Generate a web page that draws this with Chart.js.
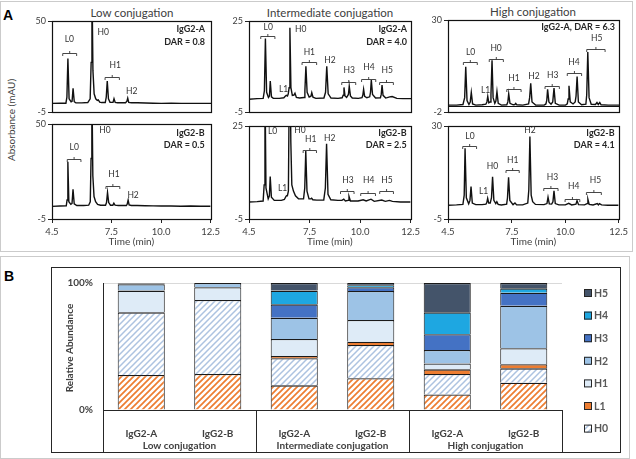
<!DOCTYPE html>
<html><head><meta charset="utf-8">
<script src="https://cdn.jsdelivr.net/npm/chart.js@4"></script>
<style>
body{margin:0;width:636px;height:459px;position:relative;background:#fff;overflow:hidden;font-family:Lato,sans-serif;color:#404040}
canvas{position:absolute}
.t{position:absolute;white-space:nowrap;transform:translate(-50%,-50%);line-height:1}
.frame{position:absolute;border:1.5px solid #cbcbcb;box-sizing:border-box}
</style></head><body>
<div class="frame" style="left:0;top:1px;width:633px;height:251px"></div>
<div class="frame" style="left:0;top:256px;width:630px;height:203px"></div>
<div class="t" style="left:8px;top:15px;font:bold 14px 'Liberation Sans';color:#000">A</div>
<div class="t" style="left:9px;top:276px;font:bold 14px 'Liberation Sans';color:#000">B</div>
<div class="t" style="left:132px;top:13px;font-size:11.5px">Low conjugation</div>
<div class="t" style="left:330px;top:13px;font-size:11.5px">Intermediate conjugation</div>
<div class="t" style="left:533px;top:12px;font-size:11.5px">High conjugation</div>
<div class="t" style="left:11px;top:120px;font-size:10px;transform:translate(-50%,-50%) rotate(-90deg)">Absorbance (mAU)</div>
<script>
// ---------- Panel A data: chromatogram traces [time (min), absorbance (mAU)] ----------
const timeTicks = [4.5, 7.5, 10.0, 12.5];
const lowA_trace = [[4.5,0.2],[4.9,0.3],[5.2,0.3],[5.25,4],[5.30,27.3],[5.36,3],[5.46,1.2],[5.51,1.5],[5.56,9.3],[5.62,1.2],[5.70,0.5],[6.0,0.5],[6.3,0.7],[6.42,3],[6.47,25],[6.51,75],[6.56,20],[6.62,6],[6.70,3],[6.78,2],[6.83,2.3],[6.90,1],[7.0,0.7],[7.18,0.7],[7.23,4],[7.28,13.7],[7.34,3],[7.42,0.8],[7.57,0.8],[7.62,3],[7.68,0.8],[7.8,0.6],[8.2,0.6],[8.27,1.5],[8.31,3.4],[8.36,0.8],[8.5,0.6],[8.8,0.6],[9.2,0.4],[9.6,0.3],[10.0,0.2],[10.5,0.3],[11.0,0.2],[11.5,0.2],[12.0,0.2],[12.5,0.2]];
const lowB_trace = [[4.5,2.3],[4.9,2.5],[5.22,2.6],[5.26,6],[5.30,28.2],[5.35,5],[5.45,3.5],[5.51,4],[5.56,12.2],[5.62,3.8],[5.75,2.8],[6.1,2.8],[6.35,3],[6.43,5],[6.47,30],[6.51,75],[6.56,20],[6.62,8],[6.70,5],[6.80,3.5],[6.95,3],[7.2,3],[7.25,4.5],[7.30,10.3],[7.36,4.5],[7.45,3],[7.57,3],[7.62,4.1],[7.68,3],[7.85,2.8],[8.25,2.8],[8.29,3.5],[8.34,6],[8.39,3.2],[8.5,2.8],[8.8,2.8],[9.2,2.7],[9.6,2.6],[10.0,2.5],[10.5,2.5],[11.0,2.4],[11.5,2.5],[12.0,2.4],[12.5,2.4]];
const intA_trace = [[4.5,-0.8],[4.9,-0.6],[5.2,-0.5],[5.26,2],[5.31,19.2],[5.37,1.5],[5.46,-0.2],[5.51,0.3],[5.55,5.2],[5.61,0],[5.7,-0.5],[6.0,-0.5],[6.22,-0.3],[6.30,0.3],[6.34,0.5],[6.40,0.3],[6.44,1.0],[6.48,3],[6.52,22.8],[6.57,3],[6.64,0.5],[6.72,0.6],[6.77,1.2],[6.84,-0.2],[7.0,-0.4],[7.22,-0.2],[7.26,2],[7.31,10.1],[7.37,1.5],[7.47,-0.1],[7.56,0.2],[7.60,1.4],[7.66,-0.1],[7.8,-0.5],[8.2,-0.4],[8.28,1.5],[8.34,10.1],[8.41,1.0],[8.55,-0.4],[8.9,-0.5],[9.1,-0.3],[9.15,0.5],[9.19,3.1],[9.24,0.3],[9.32,-0.2],[9.41,0.8],[9.45,3.5],[9.51,0.3],[9.6,-0.4],[9.9,-0.5],[10.08,-0.3],[10.12,0.5],[10.16,2.5],[10.21,0.2],[10.32,-0.3],[10.46,0.0],[10.50,1.5],[10.54,5.5],[10.6,0.8],[10.75,-0.4],[10.99,-0.3],[11.03,0.8],[11.07,3.9],[11.12,0.5],[11.25,-0.4],[11.45,0.0],[11.57,0.1],[11.8,-0.5],[12.1,-0.6],[12.5,-0.6]];
const intB_trace = [[4.5,0.5],[4.9,0.6],[5.2,0.8],[5.25,6],[5.29,40],[5.34,5],[5.45,1.5],[5.51,2.5],[5.55,8.7],[5.61,2],[5.75,1.0],[6.1,1.0],[6.25,1.3],[6.33,2.3],[6.36,2.5],[6.40,2.5],[6.45,4],[6.52,60],[6.57,20],[6.62,6],[6.70,4],[6.8,2.5],[6.95,1.5],[7.2,1.5],[7.26,5],[7.31,16.9],[7.37,4],[7.47,1.5],[7.56,1.5],[7.60,1.7],[7.66,1.2],[7.85,1.1],[8.2,1.1],[8.28,5],[8.34,19.3],[8.41,3],[8.55,1.2],[8.9,1.0],[9.1,1.0],[9.19,1.4],[9.27,0.8],[9.41,1.0],[9.45,2.3],[9.52,0.8],[9.9,0.8],[10.15,1.2],[10.3,0.8],[10.54,1.4],[10.7,0.7],[11.07,1.1],[11.25,0.7],[11.45,1.0],[11.6,0.7],[12.0,0.5],[12.5,0.5]];
const highA_trace = [[4.5,0.4],[4.9,0.4],[5.2,0.6],[5.28,3],[5.33,13.7],[5.39,2],[5.48,0.6],[5.54,1.5],[5.59,4.8],[5.65,0.8],[5.8,0.4],[6.1,0.5],[6.27,0.7],[6.32,1.5],[6.36,3.4],[6.41,1.2],[6.47,1.5],[6.51,4],[6.56,16],[6.61,3],[6.69,1],[6.74,1.8],[6.79,5.1],[6.85,1],[7.0,0.4],[7.25,0.5],[7.30,1.5],[7.34,4.3],[7.40,1],[7.55,0.5],[7.63,0.6],[7.67,1.0],[7.72,0.5],[8.0,0.4],[8.27,0.8],[8.32,3],[8.37,8],[8.43,1.5],[8.6,0.4],[9.0,0.4],[9.08,0.8],[9.12,2],[9.16,5.9],[9.22,1.5],[9.32,0.7],[9.40,1.5],[9.46,6.3],[9.52,1.0],[9.7,0.4],[10.0,0.4],[10.08,0.8],[10.12,2.5],[10.16,7.1],[10.22,1.5],[10.35,0.8],[10.45,1.5],[10.49,3.5],[10.54,10.3],[10.6,1.5],[10.75,0.5],[10.95,0.7],[10.99,4],[11.04,18.9],[11.1,3],[11.2,0.7],[11.4,0.6],[11.47,1.3],[11.53,0.6],[11.6,1.3],[11.66,0.5],[12.0,0.4],[12.5,0.4]];
const highB_trace = [[4.5,0.2],[4.9,0.3],[5.2,0.5],[5.26,4],[5.30,21.6],[5.36,3],[5.47,0.7],[5.53,2],[5.58,7.2],[5.64,1],[5.8,0.4],[6.1,0.4],[6.28,0.6],[6.32,1.2],[6.36,2.8],[6.41,1],[6.48,1.0],[6.54,3],[6.59,10.9],[6.65,2],[6.74,0.8],[6.79,1.5],[6.85,0.5],[7.0,0.3],[7.25,0.6],[7.29,3],[7.34,10.7],[7.40,2],[7.55,0.4],[7.64,1.0],[7.72,0.3],[8.0,0.3],[8.24,1],[8.29,6],[8.34,26],[8.40,4],[8.47,1.5],[8.6,0.5],[9.0,0.4],[9.14,0.8],[9.19,3.2],[9.25,0.7],[9.36,0.6],[9.42,1.5],[9.47,5.6],[9.53,0.8],[9.7,0.3],[10.0,0.3],[10.16,0.9],[10.3,0.3],[10.5,0.6],[10.55,1.9],[10.62,0.4],[10.9,0.3],[11.02,0.8],[11.06,2.4],[11.12,0.5],[11.3,0.3],[11.5,0.8],[11.55,0.3],[11.6,0.8],[11.7,0.3],[12.0,0.2],[12.5,0.2]];

// peak labels: text, time, absorbance, optional bracket [t1, t2, absorbance]
const lowA_peaks = [{s:'L0',t:5.37,v:38.8,br:[5.04,5.74,30.7]},{s:'H0',t:7.08,v:43.4},{s:'H1',t:7.68,v:23.1,br:[7.17,7.89,15.9]},{s:'H2',t:8.51,v:7.8}];
const lowB_peaks = [{s:'L0',t:5.62,v:36.8,br:[5.27,5.96,29.9]},{s:'H0',t:7.17,v:46.6},{s:'H1',t:7.62,v:20.9,br:[7.22,7.92,14.3]},{s:'H2',t:8.59,v:8.9}];
const intA_peaks = [{s:'L0',t:5.45,v:23.0,br:[5.08,5.78,20.0]},{s:'H0',t:7.05,v:22.2},{s:'L1',t:6.21,v:2.6},{s:'H1',t:7.48,v:14.8,br:[7.12,7.84,11.5]},{s:'H2',t:8.50,v:12.1},{s:'H3',t:9.45,v:8.6,br:[9.08,9.77,5.0]},{s:'H4',t:10.43,v:9.7,br:[10.06,10.76,5.8]},{s:'H5',t:11.33,v:8.6,br:[10.95,11.63,4.9]}];
const intB_peaks = [{s:'L0',t:5.67,v:23.4},{s:'H0',t:7.02,v:23.7},{s:'H1',t:7.55,v:20.7,br:[7.18,7.84,17.4]},{s:'H2',t:8.50,v:20.9},{s:'L1',t:6.16,v:5.0},{s:'H3',t:9.40,v:7.4,br:[9.03,9.70,4.1]},{s:'H4',t:10.43,v:7.4,br:[10.03,10.76,3.5]},{s:'H5',t:11.33,v:7.4,br:[10.97,11.65,3.9]}];
const highA_peaks = [{s:'L0',t:5.56,v:18.9,br:[5.22,5.87,15.4]},{s:'H0',t:6.75,v:20.0,br:[6.43,7.09,16.6]},{s:'L1',t:6.26,v:5.7},{s:'H1',t:7.59,v:9.7,br:[7.25,7.92,5.9]},{s:'H2',t:8.52,v:10.3},{s:'H3',t:9.40,v:10.8,br:[9.04,9.71,7.1]},{s:'H4',t:10.39,v:15.4,br:[10.08,10.75,11.4]},{s:'H5',t:11.46,v:23.5,br:[10.99,11.85,20.0]}];
const highB_peaks = [{s:'L0',t:5.53,v:26.2,br:[5.19,5.84,22.5]},{s:'H2',t:8.34,v:28.5},{s:'H0',t:6.59,v:14.7},{s:'L1',t:6.17,v:5.6},{s:'H1',t:7.53,v:17.2,br:[7.22,7.84,13.4]},{s:'H3',t:9.40,v:10.7,br:[8.99,9.66,6.8]},{s:'H4',t:10.39,v:7.4,br:[9.99,10.68,2.4]},{s:'H5',t:11.42,v:9.4,br:[10.99,11.69,5.3]}];

// ---------- Panel B data: relative abundance (%) ----------
const barCategories = ['IgG2-A','IgG2-B','IgG2-A','IgG2-B','IgG2-A','IgG2-B'];
const barGroups = ['Low conjugation','Intermediate conjugation','High conjugation'];
const abundanceTicks = [0, 100];
const seriesNames = ['L0','H0','L1','H1','H2','H3','H4','H5'];
const L0 = [27.6, 28.3, 19.4, 25.0, 12.3, 21.5];
const H0 = [49.3, 58.3, 21.3, 26.2, 16.0, 11.3];
const L1 = [0, 0, 1.8, 2.6, 3.7, 3.2];
const H1 = [17.1, 10.0, 13.4, 17.1, 4.7, 12.6];
const H2 = [5.0, 3.4, 16.8, 22.8, 10.5, 33.5];
const H3 = [0.6, 0, 10.5, 3.0, 12.4, 10.3];
const H4 = [0.2, 0, 10.8, 1.5, 17.3, 3.4];
const H5 = [0.2, 0, 6.0, 1.8, 23.1, 4.2];

// ---------- drawing ----------
Chart.defaults.font.family = 'Lato';
Chart.defaults.color = '#404040';

function mk(l, t, w, h) {
  const c = document.createElement('canvas');
  c.width = w; c.height = h;
  c.style.left = l + 'px'; c.style.top = t + 'px';
  c.style.width = w + 'px'; c.style.height = h + 'px';
  document.body.appendChild(c);
  return c;
}

function chromChart(s) {
  const [l, t, r, b] = s.box;
  const yW = 30, padT = 8, padR = 12, xH = s.showX ? 29 : 0, padB = s.showX ? 0 : 8;
  const cv = mk(l - yW, t - padT, r - l + yW + padR, b - t + padT + xH + padB);
  const pts = s.trace.map(p => ({x: p[0], y: p[1]}));
  new Chart(cv, {
    type: 'line',
    data: {datasets: [{data: pts, borderColor: '#111', borderWidth: 1.4, pointRadius: 0, tension: 0, fill: false}]},
    options: {
      animation: false, responsive: false, events: [],
      layout: {padding: {top: padT, right: padR, bottom: padB, left: 0}},
      plugins: {legend: {display: false}, tooltip: {enabled: false}},
      scales: {
        x: {type: 'linear', min: 4.5, max: 12.5, display: s.showX,
          afterBuildTicks: sc => { sc.ticks = timeTicks.map(v => ({value: v})); },
          afterFit: sc => { sc.height = xH; },
          ticks: {callback: v => Number(v).toFixed(1), font: {size: 9.5}, color: '#404040', padding: 3, maxRotation: 0, autoSkip: false},
          grid: {drawOnChartArea: false, tickLength: 4, color: '#222'},
          border: {color: '#222'},
          title: {display: true, text: 'Time (min)', font: {size: 10}, color: '#404040', padding: 0}},
        y: {min: s.y[0], max: s.y[1],
          afterBuildTicks: sc => { sc.ticks = s.yTicks.map(v => ({value: v})); },
          afterFit: sc => { sc.width = yW; },
          ticks: {font: {size: 9}, color: '#404040', padding: 2},
          grid: {drawOnChartArea: false, tickLength: 4, color: '#222'},
          border: {color: '#222'}}
      }
    },
    plugins: [{id: 'deco', afterDraw(ch) {
      const ctx = ch.ctx, a = ch.chartArea, x = ch.scales.x, y = ch.scales.y;
      ctx.save();
      ctx.strokeStyle = '#111'; ctx.lineWidth = 1.2;
      ctx.strokeRect(Math.round(a.left) + 0.5, Math.round(a.top) + 0.5, Math.round(a.right - a.left), Math.round(a.bottom - a.top));
      if (s.zero) {
        const yz = Math.round(y.getPixelForValue(0)) + 0.5;
        ctx.lineWidth = 1; ctx.beginPath(); ctx.moveTo(a.left, yz); ctx.lineTo(a.right, yz); ctx.stroke();
      }
      ctx.fillStyle = '#333'; ctx.strokeStyle = '#333'; ctx.lineWidth = 0.9;
      ctx.font = '8.5px Lato'; ctx.textAlign = 'center'; ctx.textBaseline = 'middle';
      s.peaks.forEach(p => {
        ctx.fillText(p.s, x.getPixelForValue(p.t), y.getPixelForValue(p.v));
        if (p.br) {
          const x1 = x.getPixelForValue(p.br[0]), x2 = x.getPixelForValue(p.br[1]);
          const yb = Math.round(y.getPixelForValue(p.br[2])) + 0.5, xm = (x1 + x2) / 2;
          ctx.beginPath();
          ctx.moveTo(x1, yb + 2.5); ctx.lineTo(x1, yb); ctx.lineTo(x2, yb); ctx.lineTo(x2, yb + 2.5);
          ctx.moveTo(xm, yb); ctx.lineTo(xm, yb - 2.5);
          ctx.stroke();
        }
      });
      ctx.font = 'bold 9px Lato'; ctx.textAlign = 'right'; ctx.fillStyle = '#262626';
      s.sample.forEach((txt, i) => ctx.fillText(txt, a.right - s.sx, a.top + s.sy[i]));
      ctx.restore();
    }}]
  });
}

chromChart({trace: lowA_trace, peaks: lowA_peaks, box: [52, 21, 211, 112], y: [-5, 50], yTicks: [-5, 50], showX: false, sample: ['IgG2-A', 'DAR = 0.8'], sx: 6, sy: [8.5, 21]});
chromChart({trace: lowB_trace, peaks: lowB_peaks, box: [52, 124, 211, 219], y: [-5, 50], yTicks: [-5, 50], showX: true, sample: ['IgG2-B', 'DAR = 0.5'], sx: 6, sy: [9, 21]});
chromChart({trace: intA_trace, peaks: intA_peaks, box: [249, 21, 411, 112], y: [-5, 25], yTicks: [-5, 25], showX: false, sample: ['IgG2-A', 'DAR = 4.0'], sx: 4, sy: [8.5, 21]});
chromChart({trace: intB_trace, peaks: intB_peaks, box: [249, 126, 411, 219], y: [-5, 25], yTicks: [-5, 25], showX: true, sample: ['IgG2-B', 'DAR = 2.5'], sx: 4, sy: [7.5, 19.5]});
chromChart({trace: highA_trace, peaks: highA_peaks, box: [448, 20, 619, 112], y: [-2, 30], yTicks: [-2, 30], showX: false, sample: ['IgG2-A, DAR = 6.3'], sx: 4, sy: [7], zero: true});
chromChart({trace: highB_trace, peaks: highB_peaks, box: [448, 126, 619, 219], y: [-5, 30], yTicks: [-5, 30], showX: true, sample: ['IgG2-B', 'DAR = 4.1'], sx: 4, sy: [7.5, 19.5]});

// hatch patterns
function hatch(color, lw) {
  const c = document.createElement('canvas'); c.width = c.height = 6;
  const g = c.getContext('2d');
  g.fillStyle = '#fff'; g.fillRect(0, 0, 6, 6);
  g.strokeStyle = color; g.lineWidth = lw; g.lineCap = 'square';
  g.beginPath();
  g.moveTo(-1, 7); g.lineTo(7, -1);
  g.moveTo(-4, 4); g.lineTo(4, -4);
  g.moveTo(2, 10); g.lineTo(10, 2);
  g.stroke();
  return g.createPattern(c, 'repeat');
}
const seriesValues = [L0, H0, L1, H1, H2, H3, H4, H5];
const fills = [hatch('#ed7d31', 1.7), hatch('#adc3e0', 1.5), '#ed7d31', '#deebf7', '#9dc3e6', '#4472c4', '#1ea7e1', '#44546a'];

const OX = 0, OY = 258;
const cvB = mk(OX, OY, 636, 201);
new Chart(cvB, {
  type: 'bar',
  data: {labels: barCategories, datasets: seriesNames.map((n, i) => ({
    label: n, data: seriesValues[i], backgroundColor: fills[i], borderColor: '#1a1a1a',
    borderWidth: {top: 1.3, left: 1, right: 1, bottom: 0},
    borderSkipped: false, barPercentage: 0.615, categoryPercentage: 1}))},
  options: {
    animation: false, responsive: false, events: [],
    layout: {padding: {top: 25, right: 74, bottom: 0, left: 0}},
    plugins: {legend: {display: false}, tooltip: {enabled: false}},
    scales: {
      x: {stacked: true, afterFit: sc => { sc.height = 49; },
        grid: {display: false, drawTicks: false}, border: {display: true, color: '#262626'},
        ticks: {font: {size: 10, weight: 'bold'}, color: '#404040', padding: 18, maxRotation: 0, autoSkip: false}},
      y: {stacked: true, min: 0, max: 100,
        afterBuildTicks: sc => { sc.ticks = abundanceTicks.map(v => ({value: v})); },
        afterFit: sc => { sc.width = 103; },
        ticks: {callback: v => v + '%', font: {size: 10, weight: 'bold'}, color: '#404040', padding: 10},
        grid: {drawTicks: false, color: c => (c.tick && c.tick.value === 100) ? '#d9d9d9' : 'rgba(0,0,0,0)'},
        border: {display: true, color: '#262626'}}
    }
  },
  plugins: [{id: 'bdeco', afterDraw(ch) {
    const ctx = ch.ctx, a = ch.chartArea, x = ch.scales.x;
    const bottom = 452 - OY;
    ctx.save();
    ctx.strokeStyle = '#262626'; ctx.lineWidth = 1;
    ctx.strokeRect(51.5, 267.5 - OY, 569, 452 - 267);
    ctx.beginPath();
    const seps = [a.left, (x.getPixelForValue(1) + x.getPixelForValue(2)) / 2, (x.getPixelForValue(3) + x.getPixelForValue(4)) / 2, a.right];
    seps.forEach(px => { const q = Math.round(px) + 0.5; ctx.moveTo(q, a.bottom); ctx.lineTo(q, bottom); });
    ctx.stroke();
    ctx.fillStyle = '#404040'; ctx.font = 'bold 10px Lato'; ctx.textAlign = 'center'; ctx.textBaseline = 'middle';
    barGroups.forEach((g, i) => {
      const cx = (x.getPixelForValue(2 * i) + x.getPixelForValue(2 * i + 1)) / 2;
      ctx.fillText(g, cx, 446 - OY);
    });
    ctx.save();
    ctx.translate(70, 348 - OY); ctx.rotate(-Math.PI / 2);
    ctx.fillText('Relative Abundance', 0, 0);
    ctx.restore();
    // legend (H5 ... H0)
    const items = ch.data.datasets.slice(1).reverse();
    ctx.textAlign = 'left'; ctx.font = 'bold 10.5px Lato'; ctx.fillStyle = '#595959';
    items.forEach((ds, i) => {
      const cy = 293 - OY + i * 22.6;
      ctx.fillStyle = ds.backgroundColor; ctx.fillRect(584, cy - 4, 8, 8);
      ctx.strokeStyle = '#262626'; ctx.strokeRect(584.5, cy - 3.5, 7, 7);
      ctx.fillStyle = '#595959'; ctx.fillText(ds.label, 594, cy + 0.5);
    });
    ctx.restore();
  }}]
});
</script>
</body></html>
